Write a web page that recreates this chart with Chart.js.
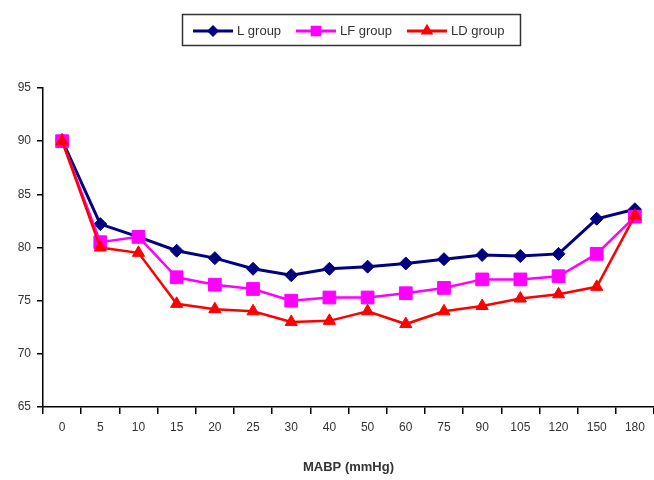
<!DOCTYPE html>
<html>
<head>
<meta charset="utf-8">
<script src="https://cdn.jsdelivr.net/npm/chart.js@4.4.0/dist/chart.umd.min.js"></script>
<style>
  html, body { margin: 0; padding: 0; background: #fff; }
  #wrap { width: 654px; height: 480px; position: relative; }
</style>
</head>
<body>
<div id="wrap"><canvas id="c" width="654" height="480"></canvas></div>
<script>
const categories = ['0','5','10','15','20','25','30','40','50','60','75','90','105','120','150','180'];
const lGroup  = [90.1, 82.2, 81.0, 79.7, 79.0, 78.0, 77.4, 78.0, 78.2, 78.5, 78.9, 79.3, 79.2, 79.4, 82.7, 83.6];
const lfGroup = [90.0, 80.5, 81.0, 77.2, 76.5, 76.1, 75.0, 75.3, 75.3, 75.7, 76.2, 77.0, 77.0, 77.3, 79.4, 82.9];
const ldGroup = [90.0, 80.0, 79.5, 74.7, 74.2, 74.0, 73.0, 73.1, 74.0, 72.8, 74.0, 74.5, 75.2, 75.6, 76.3, 83.0];
const yTicks = [65, 70, 75, 80, 85, 90, 95];
const seriesNames = ['L group', 'LF group', 'LD group'];
const xTitle = 'MABP (mmHg)';

const FONT = "'Liberation Sans', Arial, sans-serif";

const legendPlugin = {
  id: 'boxLegend',
  afterDraw(chart) {
    const ctx = chart.ctx;
    ctx.save();
    ctx.strokeStyle = '#333';
    ctx.lineWidth = 1.5;
    ctx.strokeRect(182.5, 14.5, 338, 31);
    const entries = [
      {x: 193, tx: 237},
      {x: 296, tx: 340},
      {x: 407, tx: 451}
    ];
    chart.data.datasets.forEach((ds, i) => {
      const e = entries[i];
      const y = 31;
      ctx.strokeStyle = ds.borderColor;
      ctx.lineWidth = 3;
      ctx.beginPath();
      ctx.moveTo(e.x, y); ctx.lineTo(e.x + 40, y);
      ctx.stroke();
      ctx.fillStyle = ds.backgroundColor;
      Chart.helpers.drawPoint(ctx, {
        pointStyle: ds.pointStyle,
        radius: ds.pointRadius * 0.6,
        borderWidth: 1
      }, e.x + 20, y);
      ctx.fillStyle = '#333';
      ctx.font = '13px ' + FONT;
      ctx.textBaseline = 'middle';
      ctx.textAlign = 'left';
      ctx.fillText(ds.label, e.tx, y);
    });
    ctx.restore();
  }
};

new Chart(document.getElementById('c'), {
  type: 'line',
  data: {
    labels: categories,
    datasets: [
      { label: seriesNames[0], data: lGroup, borderColor: '#000080', backgroundColor: '#000080', order: 3,
        pointStyle: 'rectRot', pointRadius: 6.5, pointBorderWidth: 1, borderWidth: 3 },
      { label: seriesNames[1], data: lfGroup, borderColor: '#FF00FF', backgroundColor: '#FF00FF', order: 2,
        pointStyle: 'rect', pointRadius: 9, pointBorderWidth: 1, borderWidth: 2.5 },
      { label: seriesNames[2], data: ldGroup, borderColor: '#FF0000', backgroundColor: '#FF0000', order: 1,
        pointStyle: 'triangle', pointRadius: 7, pointBorderWidth: 1, borderWidth: 2.5 }
    ]
  },
  options: {
    responsive: false,
    animation: false,
    layout: { autoPadding: false, padding: { top: 88, right: 0, bottom: 0, left: 0 } },
    plugins: { legend: { display: false }, tooltip: { enabled: false } },
    elements: { line: { tension: 0 } },
    scales: {
      x: {
        type: 'category',
        offset: true,
        grid: { offset: true, drawOnChartArea: false, drawTicks: true, tickLength: 7, color: '#000', lineWidth: 1.5 },
        border: { display: true, color: '#000', width: 1.5 },
        ticks: { color: '#333', font: { family: FONT, size: 12 }, padding: 6, maxRotation: 0, autoSkip: false },
        title: { display: true, text: xTitle, color: '#333', font: { family: FONT, size: 13, weight: 'bold' }, padding: { top: 4, bottom: 5 } },
        afterFit(scale) { scale.height = 73; scale.paddingLeft = 0; scale.paddingRight = 0; }
      },
      y: {
        min: 65, max: 95,
        afterBuildTicks(scale) { scale.ticks = yTicks.map(v => ({ value: v })); },
        grid: { drawOnChartArea: false, drawTicks: true, tickLength: 6, color: '#000', lineWidth: 1.5 },
        border: { display: true, color: '#000', width: 1.5 },
        ticks: { color: '#333', font: { family: FONT, size: 12 }, padding: 6 },
        afterFit(scale) { scale.width = 43; scale.paddingTop = 0; scale.paddingBottom = 0; }
      }
    }
  },
  plugins: [legendPlugin]
});
</script>
</body>
</html>
